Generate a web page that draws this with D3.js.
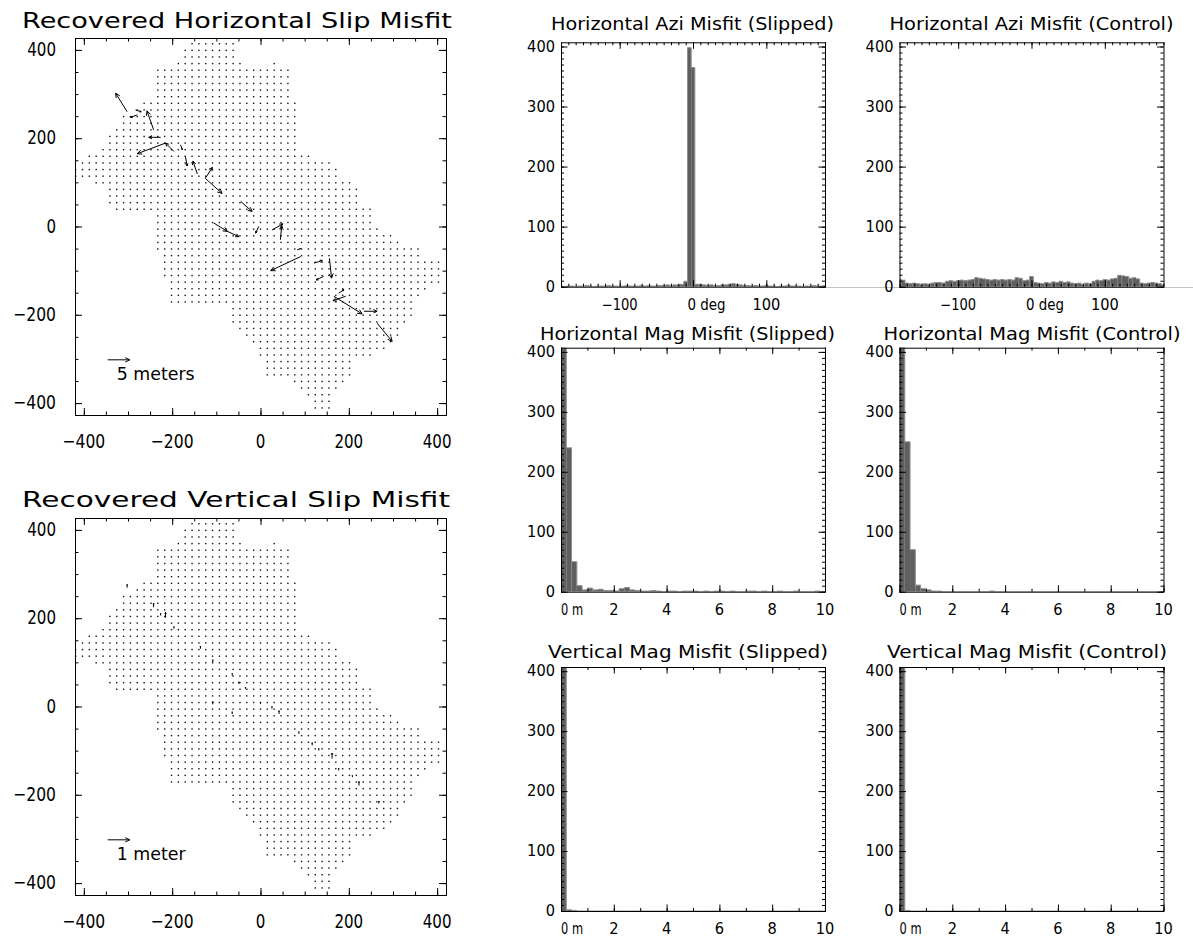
<!DOCTYPE html>
<html>
<head>
<meta charset="utf-8">
<script src="https://cdn.jsdelivr.net/npm/d3@7"></script>
<style>
  body { margin: 0; background: #fff; }
  text { font-family: "DejaVu Sans", sans-serif; fill: #000; }
</style>
</head>
<body>
<script>
// ---- station grid (rows of stations, map units) ----
var rowY = [414, 399, 384, 369, 354, 339, 324, 309, 294, 279, 264, 249, 234, 219, 204, 189, 174, 159, 144, 129,
  114, 99, 84, 69, 54, 39, 24, 9, -6, -21, -36, -51, -66, -81, -96, -111, -126, -141, -156, -171,
  -186, -201, -216, -231, -246, -261, -276, -291, -306, -321, -336, -351, -366, -381, -396, -411];
var rowLeft = [-166, -181, -181, -196, -242, -242, -242, -242, -242, -272, -287, -317, -317, -332, -347, -347, -362, -393, -408, -420,
  -420, -381, -347, -347, -347, -336, -242, -242, -242, -230, -230, -230, -215, -215, -215, -215, -200, -200, -200, -200,
  -64, -64, -64, -49, -34, -19, -4, -4, 11, 11, 11, 72, 87, 102, 117, 117];
var rowRight = [-60, -60, -60, -42, 60, 60, 60, 60, 60, 75, 75, 75, 75, 75, 75, 75, 75, 117, 162, 170,
  170, 200, 215, 215, 226, 245, 257, 257, 272, 291, 321, 362, 362, 408, 408, 408, 408, 381, 366, 351,
  351, 351, 336, 321, 306, 291, 276, 245, 208, 208, 208, 192, 177, 162, 155, 155];
var extraRowY = [369], extraLeft = [26], extraRight = [41];
var colStep = 15.5;

// ---- horizontal slip misfit vectors: tail x, tail y (map units), east / north misfit (m) ----
var hArrX = [-302, -242, -226, -215, -196, -181, -170, -143, -125, -125, -45, -106, -75, -4, 26, 45, 91, 121, 156, 143, 193, 166, 234, 264, -279, 177, 83, -283];
var hArrY = [260, 219, 202, 189, 170, 185, 158, 119, 109, 109, 57, 8, -11, 0, -8, -30, -68, -83, -72, -113, -158, -158, -192, -219, 253, -151, -53, 264];
var hArrU = [-2.6, -1.5, -2.7, -6.4, -1.9, 0.4, 0.4, -1.0, 1.6, 3.8, 2.6, 3.1, 2.6, -0.7, 2.5, 0.3, -6.8, 1.9, 0.5, -1.7, -2.9, 6.4, 3.0, 3.4, -1.5, 1.2, 0.8, 1.3];
var hArrV = [4.2, 4.3, 0.0, -2.4, 1.9, -1.1, -2.1, 2.9, 2.5, -3.4, -2.3, -1.9, -1.2, -1.5, 1.4, 3.2, -3.2, 0.6, -4.5, -0.8, -1.0, -4.0, 0.0, -4.1, -0.6, 0.8, 0.3, -0.4];

// ---- vertical slip misfit vectors: x, y (map units), up misfit (m) ----
var vArrX = [-302, -242, -226, -215, -196, -136, -108, -64, -49, -34, -108, -64, 0, 26, 42, 87, 117, 132, 162, 177, 208, 223, 268];
var vArrY = [269, 225, 206, 201, 176, 131, 100, 70, 51, 40, 5, -17, 6, -5, -17, -62, -88, -100, -118, -145, -160, -179, -220];
var vArrV = [0.15, 0.18, 0.1, 0.25, 0.1, 0.12, 0.12, 0.1, 0.1, 0.08, 0.12, 0.1, 0.08, 0.1, 0.15, 0.1, 0.12, 0.1, 0.25, 0.1, 0.08, 0.18, 0.12];

// ---- histograms ----
var aziCenters = [-180, -175, -170, -165, -160, -155, -150, -145, -140, -135, -130, -125, -120, -115, -110, -105, -100, -95, -90, -85,
  -80, -75, -70, -65, -60, -55, -50, -45, -40, -35, -30, -25, -20, -15, -10, -5, 0, 5, 10, 15,
  20, 25, 30, 35, 40, 45, 50, 55, 60, 65, 70, 75, 80, 85, 90, 95, 100, 105, 110, 115,
  120, 125, 130, 135, 140, 145, 150, 155, 160, 165, 170, 175, 180];
var aziSlipped = [1, 0, 1, 1, 0, 1, 1, 2, 1, 0, 1, 1, 1, 2, 1, 1, 0, 1, 2, 1,
  1, 1, 2, 1, 2, 1, 1, 2, 2, 3, 2, 3, 3, 4, 9, 398, 365, 4, 4, 3,
  2, 3, 2, 2, 3, 3, 4, 5, 4, 3, 2, 2, 1, 2, 1, 1, 2, 1, 1, 0,
  1, 1, 2, 1, 1, 1, 0, 1, 1, 2, 1, 1, 2];
var aziControl = [12, 11, 6, 5, 6, 5, 4, 5, 4, 6, 7, 7, 6, 9, 10, 9, 10, 11, 10, 11,
  12, 15, 14, 13, 12, 11, 12, 11, 12, 11, 12, 11, 15, 14, 10, 11, 17, 7, 6, 5,
  7, 6, 8, 7, 9, 7, 8, 6, 5, 6, 4, 6, 5, 9, 11, 10, 12, 11, 13, 14,
  19, 18, 17, 14, 15, 13, 6, 5, 6, 7, 6, 5, 3];
var magEdges = [0, 0.2, 0.4, 0.6, 0.8, 1.0, 1.2, 1.4, 1.6, 1.8, 2.0, 2.2, 2.4, 2.6, 2.8, 3.0, 3.2, 3.4, 3.6, 3.8,
  4.0, 4.2, 4.4, 4.6, 4.8, 5.0, 5.2, 5.4, 5.6, 5.8, 6.0, 6.2, 6.4, 6.6, 6.8, 7.0, 7.2, 7.4, 7.6, 7.8,
  8.0, 8.2, 8.4, 8.6, 8.8, 9.0, 9.2, 9.4, 9.6, 9.8];
var hMagSlipped = [560, 240, 50, 10, 3, 6, 3, 4, 2, 2, 1, 5, 7, 3, 2, 1, 1, 2, 1, 0,
  1, 1, 0, 1, 1, 1, 0, 1, 0, 1, 1, 0, 1, 0, 0, 1, 1, 0, 1, 0,
  0, 1, 0, 0, 1, 0, 0, 0, 1, 0];
var hMagControl = [540, 250, 70, 11, 5, 3, 1, 1, 0, 0, 0, 0, 0, 0, 0, 0, 0, 1, 0, 0,
  0, 0, 0, 0, 0, 0, 0, 0, 0, 0, 0, 0, 0, 0, 0, 0, 0, 0, 0, 0,
  0, 0, 0, 0, 0, 0, 0, 0, 0, 0];
var vMagSlipped = [800, 2, 1, 0, 0, 0, 0, 0, 0, 0, 0, 0, 0, 0, 0, 0, 0, 0, 0, 0,
  0, 0, 0, 0, 0, 0, 0, 0, 0, 0, 0, 0, 0, 0, 0, 0, 0, 0, 0, 0,
  0, 0, 0, 0, 0, 0, 0, 0, 0, 0];
var vMagControl = [800, 1, 0, 0, 0, 0, 0, 0, 0, 0, 0, 0, 0, 0, 0, 0, 0, 0, 0, 0,
  0, 0, 0, 0, 0, 0, 0, 0, 0, 0, 0, 0, 0, 0, 0, 0, 0, 0, 0, 0,
  0, 0, 0, 0, 0, 0, 0, 0, 0, 0];

var mapTicks = [-400, -200, 0, 200, 400];
var mapTickLabels = ["\u2212400", "\u2212200", "0", "200", "400"];
var countTicks = [0, 100, 200, 300, 400];
var countTickLabels = ["0", "100", "200", "300", "400"];
var aziTicks = [-100, 0, 100];
var aziTickLabels = ["\u2212100", "0 deg", "100"];
var magTicks = [0, 2, 4, 6, 8, 10];
var magTickLabels = ["0 m", "2", "4", "6", "8", "10"];

var svg = d3.select("body").append("svg")
  .attr("width", 1193)
  .attr("height", 942);

// text helper; width forces the length like the narrow IDL font
function label(g, x, y, str, size, anchor, width) {
  var t = g.append("text")
    .attr("x", x).attr("y", y)
    .attr("font-size", size)
    .attr("text-anchor", anchor)
    .text(str);
  if (width) t.attr("textLength", width).attr("lengthAdjust", "spacingAndGlyphs");
  return t;
}

// inward ticks on all 4 sides, IDL style
function ticks(g, axisFn, scale, values, len, tx, ty) {
  g.append("g")
    .attr("transform", "translate(" + tx + "," + ty + ")")
    .call(axisFn(scale).tickValues(values).tickSize(-len).tickFormat(""))
    .call(function(s) { s.select(".domain").remove(); });
}

function frame(g, x, y, xMaj, xMin, yMaj, yMin, majLen, minLen) {
  var xl = x.range()[0], xr = x.range()[1], yb = y.range()[0], yt = y.range()[1];
  ticks(g, d3.axisBottom, x, xMaj, majLen, 0, yb);
  ticks(g, d3.axisBottom, x, xMin, minLen, 0, yb);
  ticks(g, d3.axisTop, x, xMaj, majLen, 0, yt);
  ticks(g, d3.axisTop, x, xMin, minLen, 0, yt);
  ticks(g, d3.axisLeft, y, yMaj, majLen, xl, 0);
  ticks(g, d3.axisLeft, y, yMin, minLen, xl, 0);
  ticks(g, d3.axisRight, y, yMaj, majLen, xr, 0);
  ticks(g, d3.axisRight, y, yMin, minLen, xr, 0);
  g.append("rect")
    .attr("x", xl + 0.5).attr("y", yt + 0.5)
    .attr("width", xr - xl).attr("height", yb - yt)
    .attr("fill", "none").attr("stroke", "#000").attr("stroke-width", 1);
}

function arrowD(x1, y1, x2, y2) {
  var dx = x2 - x1, dy = y2 - y1, len = Math.sqrt(dx * dx + dy * dy);
  if (len < 0.01) return "";
  var h = Math.min(5, 0.3 * len), a = Math.atan2(dy, dx), s = 0.45;
  return "M" + x1 + "," + y1 + "L" + x2 + "," + y2 +
    "M" + (x2 - h * Math.cos(a - s)) + "," + (y2 - h * Math.sin(a - s)) + "L" + x2 + "," + y2 +
    "L" + (x2 - h * Math.cos(a + s)) + "," + (y2 - h * Math.sin(a + s));
}

// station positions from the row extents
var stations = [];
function addRows(ys, ls, rs) {
  ys.forEach(function(y, i) {
    var a = Math.ceil((ls[i] - 4) / colStep), b = Math.floor((rs[i] + 4) / colStep);
    for (var j = a; j <= b; j++) stations.push([j * colStep, y]);
  });
}
addRows(rowY, rowLeft, rowRight);
addRows(extraRowY, extraLeft, extraRight);

// ================= map panels =================
var mapX = d3.scaleLinear().domain([-420, 420]).range([75, 446]);

function mapPanel(top, bottom, title, titleW, titleY, arrows, legendText, legendW, legendScale) {
  var y = d3.scaleLinear().domain([-427, 427]).range([bottom, top]);
  var g = svg.append("g");

  label(g, 22, titleY, title, 22, "start", titleW);

  g.append("g").selectAll("rect")
    .data(stations)
    .enter()
    .append("rect")
    .attr("x", function(d) { return mapX(d[0]) - 0.7; })
    .attr("y", function(d) { return y(d[1]) - 0.7; })
    .attr("width", 1.4).attr("height", 1.4)
    .attr("fill", "#111");

  g.append("g").selectAll("path")
    .data(arrows)
    .enter()
    .append("path")
    .attr("d", function(d) {
      return arrowD(mapX(d[0]), y(d[1]), mapX(d[0] + d[2] * legendScale), y(d[1] + d[3] * legendScale));
    })
    .attr("fill", "none").attr("stroke", "#000").attr("stroke-width", 1);

  frame(g, mapX, y, mapTicks, d3.range(-400, 401, 50), mapTicks, d3.range(-400, 401, 50), 7, 3.5);

  mapTicks.forEach(function(v, i) {
    var s = mapTickLabels[i];
    var w = (s.length - (s.charAt(0) == "\u2212" ? 1 : 0)) * 9.6 + (s.charAt(0) == "\u2212" ? 14 : 0);
    label(g, 56, y(v) + 6, s, 20, "end", w);
    label(g, mapX(v), bottom + 33, s, 20, "middle", w);
  });

  // scale arrow
  var lx = -346, ly = -302;
  g.append("path")
    .attr("d", arrowD(mapX(lx), y(ly), mapX(lx + 50), y(ly)))
    .attr("fill", "none").attr("stroke", "#000").attr("stroke-width", 1);
  label(g, mapX(lx) + 9, y(ly) + 20.5, legendText, 17, "start", legendW);
}

var hArrows = hArrX.map(function(x, i) { return [x, hArrY[i], hArrU[i], hArrV[i]]; });
var vArrows = vArrX.map(function(x, i) { return [x, vArrY[i], 0, vArrV[i]]; });

mapPanel(38, 415, "Recovered Horizontal Slip Misfit", 430, 28, hArrows, "5 meters", 78, 10);
mapPanel(518, 895, "Recovered Vertical Slip Misfit", 428, 507, vArrows, "1 meter", 69, 50);

// ================= histograms =================
// faint baseline running past the azimuth panels
svg.append("line")
  .attr("x1", 825).attr("x2", 1193)
  .attr("y1", 287.5).attr("y2", 287.5)
  .attr("stroke", "#c4c4c4").attr("stroke-width", 1);

var histCols = [[561, 825], [899.5, 1163.5]];
var histRows = [[42.3, 286.7], [347.7, 591.7], [667, 911]];

function histPanel(id, col, row, title, titleX, titleW, titleY, lefts, binW, values, xDom, xTicks, xLabels, xMinor, zeroShift, zeroW) {
  var x = d3.scaleLinear().domain(xDom).range(histCols[col]);
  var y = d3.scaleLinear().domain([0, 407]).range([histRows[row][1], histRows[row][0]]);
  var g = svg.append("g");

  g.append("clipPath").attr("id", id)
    .append("rect")
    .attr("x", x.range()[0]).attr("y", y.range()[1])
    .attr("width", x.range()[1] - x.range()[0]).attr("height", y.range()[0] - y.range()[1]);

  var bins = lefts.map(function(l, i) { return { x0: l, x1: l + binW, v: values[i] }; });
  var plot = g.append("g").attr("clip-path", "url(#" + id + ")");

  plot.selectAll("rect")
    .data(bins)
    .enter()
    .append("rect")
    .attr("x", function(d) { return x(d.x0); })
    .attr("width", function(d) { return x(d.x1) - x(d.x0); })
    .attr("y", function(d) { return y(d.v); })
    .attr("height", function(d) { return y(0) - y(d.v); })
    .attr("fill", "#5f5f5f");

  var pts = bins.map(function(d) { return [d.x0, d.v]; });
  pts.push([bins[bins.length - 1].x1, bins[bins.length - 1].v]);
  plot.append("path")
    .attr("d", d3.line().curve(d3.curveStepAfter)
      .x(function(d) { return x(d[0]); })
      .y(function(d) { return y(d[1]); })(pts))
    .attr("fill", "none").attr("stroke", "#8e8e8e").attr("stroke-width", 1);

  frame(g, x, y, xTicks, xMinor, countTicks, d3.range(0, 407, 10), 6.5, 3);

  label(g, titleX, titleY, title, 17, "start", titleW);

  countTicks.forEach(function(v, i) {
    label(g, x.range()[0] - 6, y(v) + 5, countTickLabels[i], 15, "end", countTickLabels[i].length * 9.3);
  });
  xTicks.forEach(function(v, i) {
    var s = xLabels[i], base = y.range()[0] + 23;
    if (v === 0) {
      label(g, x(0) + zeroShift, base, s, 15, "start", zeroW);
    } else {
      var neg = s.charAt(0) == "\u2212";
      label(g, x(v), base, s, 15, "middle", (s.length - (neg ? 1 : 0)) * 9.3 + (neg ? 8 : 0));
    }
  });
}

var aziLefts = aziCenters.map(function(c) { return c - 2.5; });

histPanel("c1", 0, 0, "Horizontal Azi Misfit (Slipped)", 551, 283, 30, aziLefts, 5, aziSlipped,
  [-180, 180], aziTicks, aziTickLabels, d3.range(-180, 181, 10), -5.5, 38);
histPanel("c2", 1, 0, "Horizontal Azi Misfit (Control)", 889.5, 284, 30, aziLefts, 5, aziControl,
  [-180, 180], aziTicks, aziTickLabels, d3.range(-180, 181, 10), -5.5, 38);
histPanel("c3", 0, 1, "Horizontal Mag Misfit (Slipped)", 540, 295, 339.5, magEdges, 0.2, hMagSlipped,
  [0, 10], magTicks, magTickLabels, d3.range(0, 10.01, 1), 0, 22);
histPanel("c4", 1, 1, "Horizontal Mag Misfit (Control)", 883.5, 297, 339.5, magEdges, 0.2, hMagControl,
  [0, 10], magTicks, magTickLabels, d3.range(0, 10.01, 1), 0, 22);
histPanel("c5", 0, 2, "Vertical Mag Misfit (Slipped)", 548, 280, 658, magEdges, 0.2, vMagSlipped,
  [0, 10], magTicks, magTickLabels, d3.range(0, 10.01, 1), 0, 22);
histPanel("c6", 1, 2, "Vertical Mag Misfit (Control)", 887, 280, 658, magEdges, 0.2, vMagControl,
  [0, 10], magTicks, magTickLabels, d3.range(0, 10.01, 1), 0, 22);
</script>
</body>
</html>
